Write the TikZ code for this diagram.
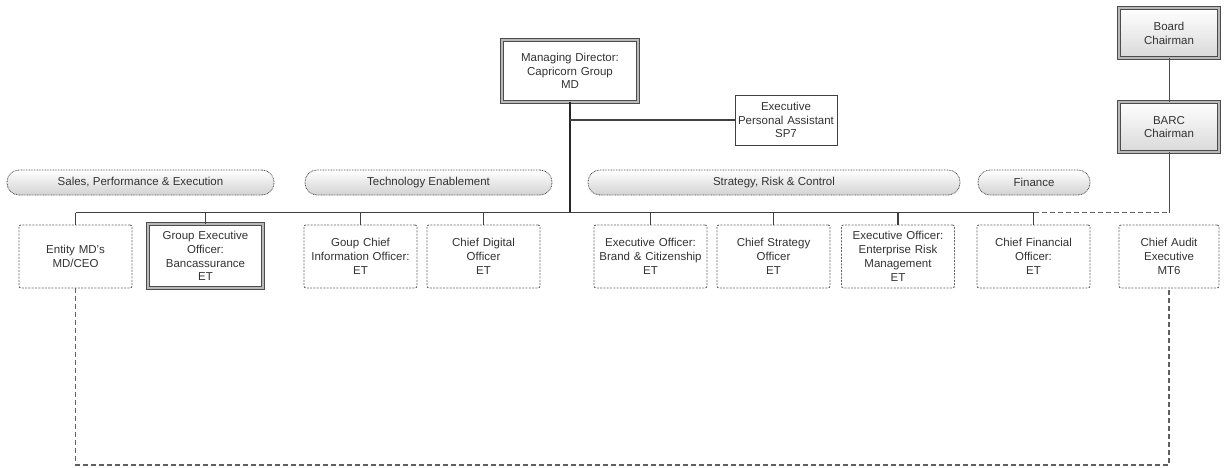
\documentclass[tikz,border=0pt]{standalone}
\usepackage{fontspec}
\setmainfont{Liberation Sans}
\begin{document}
\begin{tikzpicture}[x=1pt,y=-1pt,
  txt/.style={align=center, inner sep=1pt, font=\fontsize{11.5}{13.8}\selectfont, text=black!80},
  dbox/.style={txt, rectangle, draw=gray!80!black, dash pattern=on 2pt off 1.3pt, line width=0.9pt,
     rounded corners=2pt, fill=white, minimum width=113pt, minimum height=63pt, text width=111pt},
  dblbox/.style={txt, rectangle, draw=gray!60!black, double=gray!55, line width=0.8pt,
     double distance=1.6pt, fill=white},
  plainbox/.style={txt, rectangle, draw=gray!50!black, line width=1pt, fill=white},
  pill/.style={txt, rectangle, rounded corners=12pt, draw=gray!60!black, dash pattern=on 0.8pt off 0.8pt,
     line width=0.8pt, top color=white, bottom color=gray!35, minimum height=25pt},
  trunk/.style={draw=black!85, line width=1.6pt},
  conn/.style={draw=black!75, line width=1.1pt},
  thinconn/.style={draw=gray!60!black, line width=1pt},
  dashconn/.style={draw=gray!75!black, line width=1.1pt, dash pattern=on 5pt off 3pt}
]
\useasboundingbox (0,0) rectangle (1224,467);

% top boxes
\node[dblbox, minimum width=136pt, minimum height=62pt, text width=132pt] (md) at (570,71)
  {Managing Director:\\Capricorn Group\\MD};
\node[plainbox, minimum width=100pt, minimum height=50pt, text width=100pt] (epa) at (786,120)
  {Executive\\Personal Assistant\\SP7};
\node[dblbox, top color=white, bottom color=gray!30, minimum width=100pt, minimum height=50pt, text width=96pt] (board) at (1169,33)
  {Board\\Chairman};
\node[dblbox, top color=white, bottom color=gray!30, minimum width=100pt, minimum height=50pt, text width=96pt] (barc) at (1169,127)
  {BARC\\Chairman};

% group pills
\node[pill, minimum width=267pt] (sales) at (140.5,182.5) {Sales, Performance \& Execution};
\node[pill, minimum width=247pt] (tech) at (428.5,182.5) {Technology Enablement};
\node[pill, minimum width=372pt] (strat) at (774,182.5) {Strategy, Risk \& Control};
\node[pill, minimum width=112pt] (fin) at (1034,182.5) {Finance};

% lower boxes
\node[dbox] (entity) at (75.5,256.5) {Entity MD's\\MD/CEO};
\node[dblbox, minimum width=115pt, minimum height=64pt, text width=111pt] (gexec) at (205.5,256)
  {Group Executive\\Officer:\\Bancassurance\\ET};
\node[dbox] (gcio) at (360.5,256.5) {Goup Chief\\Information Officer:\\ET};
\node[dbox] (cdo) at (483.5,256.5) {Chief Digital\\Officer\\ET};
\node[dbox] (brand) at (650.5,256.5) {Executive Officer:\\Brand \& Citizenship\\ET};
\node[dbox] (cso) at (773.5,256.5) {Chief Strategy\\Officer\\ET};
\node[dbox] (erm) at (898,256.5) {Executive Officer:\\Enterprise Risk\\Management\\ET};
\node[dbox] (cfo) at (1033.5,256.5) {Chief Financial\\Officer:\\ET};
\node[dbox, minimum width=100pt, text width=98pt] (cae) at (1169,256.5) {Chief Audit\\Executive\\MT6};

\coordinate (bus) at (0,212.5);
\coordinate (loop) at (0,465);

% connectors
\draw[trunk] (md.south) -- (md.south |- bus);
\draw[conn] (md.south |- epa.west) -- (epa.west);
\draw[conn] (entity.north |- bus) -- (cfo.north |- bus);
\foreach \n in {entity,gexec,gcio,cdo,brand,cso,erm,cfo}
  \draw[conn] (\n.north |- bus) -- (\n.north);
\draw[dashconn] (cfo.north |- bus) -- (barc.south |- bus);
\draw[thinconn] (board.south) -- (barc.north);
\draw[thinconn] (barc.south) -- (barc.south |- bus);
\draw[dashconn] (entity.south) -- (entity.south |- loop) -| (cae.south);
\end{tikzpicture}
\end{document}
